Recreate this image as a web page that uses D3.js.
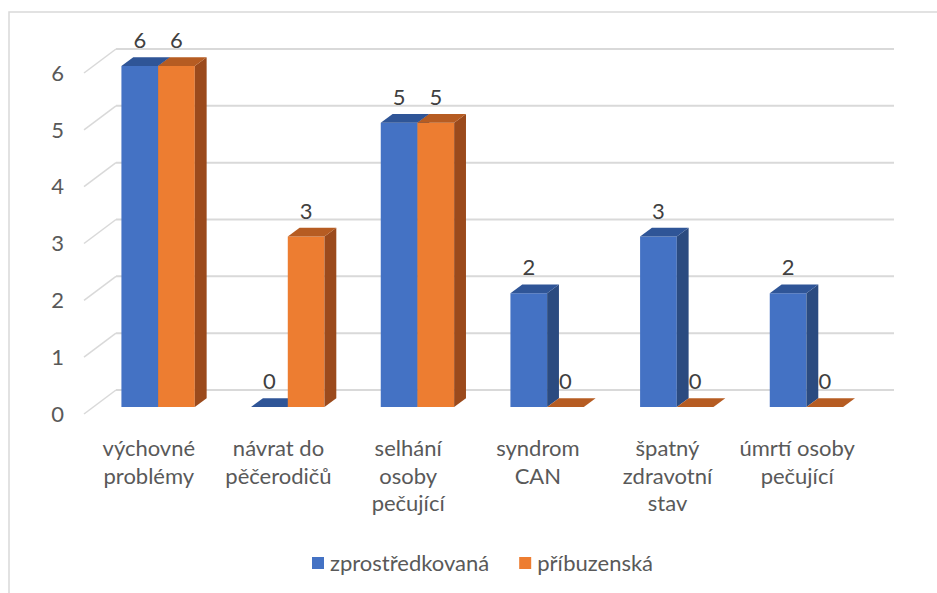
<!DOCTYPE html>
<html>
<head>
<meta charset="utf-8">
<script src="https://cdn.jsdelivr.net/npm/d3@7"></script>
<style>
  body { margin: 0; background: #fff; }
  svg { display: block; font-family: Lato, "Open Sans", sans-serif; }
</style>
</head>
<body>
<div id="chart"></div>
<script>
const categories = [
  ["výchovné", "problémy"],
  ["návrat do", "pěčerodičů"],
  ["selhání", "osoby", "pečující"],
  ["syndrom", "CAN"],
  ["špatný", "zdravotní", "stav"],
  ["úmrtí osoby", "pečující"]
];
const seriesNames = ["zprostředkovaná", "příbuzenská"];
const zprostredkovana = [6, 0, 5, 2, 3, 2];
const pribuzenska = [6, 3, 5, 0, 0, 0];
const yTicks = [0, 1, 2, 3, 4, 5, 6];

const width = 937, height = 593;
const colors = [
  { front: "#4472C4", top: "#2F5597", side: "#2B4B80" },
  { front: "#ED7D31", top: "#B65C22", side: "#9B4A1C" }
];

// 3D depth of the floor and position of the bars inside it
const DX = 32, DY = 24;
const zFront = 0.29, zBack = 0.66;

const svg = d3.select("#chart").append("svg")
  .attr("width", width)
  .attr("height", height);

// chart border
svg.append("rect")
  .attr("x", 9).attr("y", 12)
  .attr("width", 960).attr("height", 620)
  .attr("fill", "none")
  .attr("stroke", "#d9d9d9")
  .attr("stroke-width", 1.5);

const x0 = d3.scaleBand()
  .domain(d3.range(categories.length))
  .range([84, 862]);

const x1 = d3.scaleBand()
  .domain([0, 1])
  .range([0, x0.bandwidth()])
  .paddingOuter(0.767);

const y = d3.scaleLinear()
  .domain([0, 6])
  .range([414, 73]);

const grid = svg.append("g");
yTicks.forEach(t => {
  grid.append("line")
    .attr("x1", 84).attr("y1", y(t))
    .attr("x2", 84 + DX).attr("y2", y(t) - DY)
    .attr("stroke", "#d9d9d9").attr("stroke-width", 1.5);
  grid.append("line")
    .attr("x1", 84 + DX).attr("y1", y(t) - DY)
    .attr("x2", 862 + DX).attr("y2", y(t) - DY)
    .attr("stroke", "#d9d9d9").attr("stroke-width", 2);
});

svg.append("g").selectAll("text")
  .data(yTicks)
  .join("text")
  .attr("x", 64)
  .attr("y", d => y(d))
  .attr("dy", "0.35em")
  .attr("text-anchor", "end")
  .attr("font-size", 22)
  .attr("fill", "#595959")
  .text(d => d);

const bars = [];
categories.forEach((c, i) => {
  [zprostredkovana[i], pribuzenska[i]].forEach((v, s) => {
    bars.push({ i, s, v });
  });
});

const barG = svg.append("g");
const poly = pts => pts.map(p => p.join(",")).join(" ");
bars.forEach(d => {
  const xl = x0(d.i) + x1(d.s) + DX * zFront;
  const xr = xl + x1.bandwidth();
  const yb = y(0) - DY * zFront;
  const yt = y(d.v) - DY * zFront;
  const ddx = DX * (zBack - zFront), ddy = DY * (zBack - zFront);
  const c = colors[d.s];
  barG.append("polygon")
    .attr("points", poly([[xl, yb], [xr, yb], [xr, yt], [xl, yt]]))
    .attr("fill", c.front);
  barG.append("polygon")
    .attr("points", poly([[xr, yb], [xr + ddx, yb - ddy], [xr + ddx, yt - ddy], [xr, yt]]))
    .attr("fill", c.side);
  barG.append("polygon")
    .attr("points", poly([[xl, yt], [xr, yt], [xr + ddx, yt - ddy], [xl + ddx, yt - ddy]]))
    .attr("fill", c.top);
  barG.append("text")
    .attr("x", (xl + xr) / 2)
    .attr("y", yt - ddy - 9)
    .attr("text-anchor", "middle")
    .attr("font-size", 22)
    .attr("fill", "#404040")
    .text(d.v);
});

// category labels
const catG = svg.append("g");
categories.forEach((lines, i) => {
  const cx = x0(i) + x0.bandwidth() / 2;
  const t = catG.append("text")
    .attr("x", cx)
    .attr("y", 456)
    .attr("text-anchor", "middle")
    .attr("font-size", 22)
    .attr("fill", "#595959");
  lines.forEach((l, k) => {
    t.append("tspan")
      .attr("x", cx)
      .attr("dy", k === 0 ? 0 : 27.5)
      .text(l);
  });
});

// legend
const legend = svg.append("g");
let lx = 312;
seriesNames.forEach((name, s) => {
  legend.append("rect")
    .attr("x", lx).attr("y", 557)
    .attr("width", 12).attr("height", 12)
    .attr("fill", colors[s].front);
  const t = legend.append("text")
    .attr("x", lx + 18).attr("y", 563)
    .attr("dy", "0.35em")
    .attr("font-size", 22)
    .attr("fill", "#595959")
    .text(name);
  lx += 18 + t.node().getComputedTextLength() + 30;
});
</script>
</body>
</html>
